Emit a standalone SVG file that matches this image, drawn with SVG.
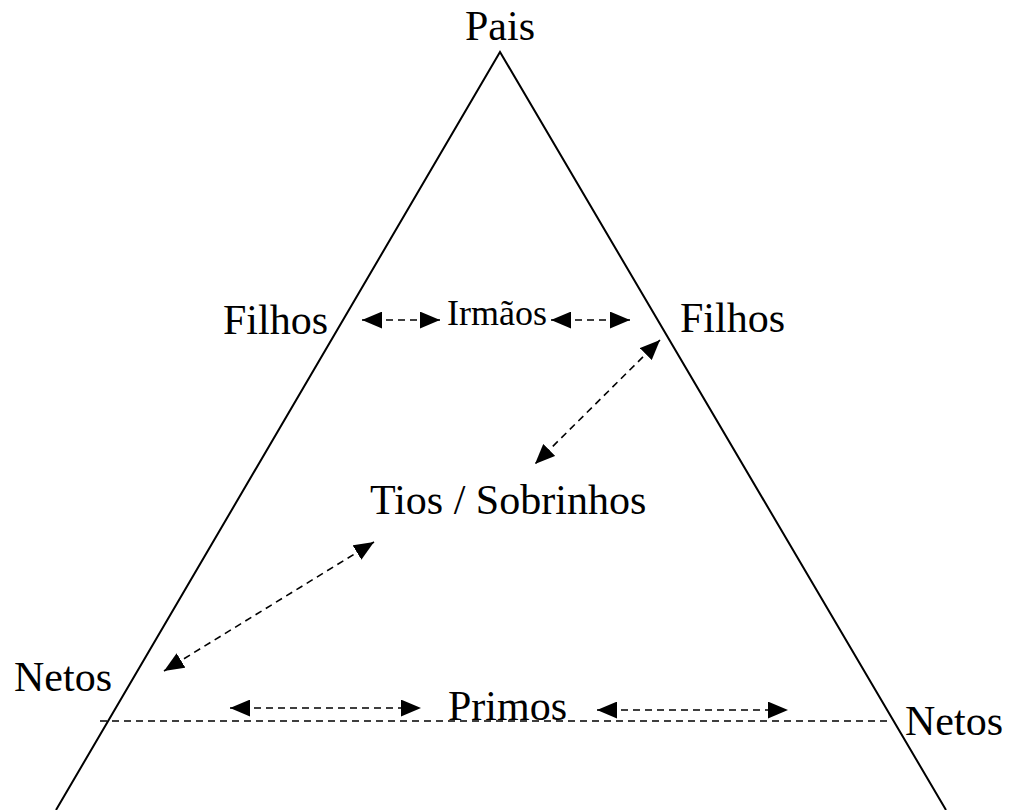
<svg xmlns="http://www.w3.org/2000/svg" width="1011" height="810" viewBox="0 0 1011 810">
<style>
text{font-family:"Liberation Serif","Times New Roman",serif;fill:#000;font-size:42px}
.tri{fill:none;stroke:#000;stroke-width:2}
.dash{stroke:#000;stroke-width:1.6;stroke-dasharray:7,5;fill:none}
.arr{marker-start:url(#ah);marker-end:url(#ah)}
</style>
<defs>
<marker id="ah" markerUnits="userSpaceOnUse" markerWidth="20" markerHeight="17" refX="19" refY="8" orient="auto-start-reverse" viewBox="0 0 19 16">
<path d="M0,0 L19,8 L0,16 z" fill="#000"/>
</marker>
</defs>
<rect width="1011" height="810" fill="#fff"/>
<g id="triangle"><path class="tri" d="M56,810 L500,52 L946,810"/></g>
<g id="connectors">
<line class="dash" x1="100" y1="721" x2="890" y2="721"/>
<line class="dash arr" x1="362" y1="320" x2="440" y2="320"/>
<line class="dash arr" x1="551" y1="320" x2="630" y2="320"/>
<line class="dash arr" x1="660" y1="340" x2="535" y2="464"/>
<line class="dash arr" x1="374" y1="542" x2="164" y2="671"/>
<line class="dash arr" x1="230" y1="708" x2="421" y2="708"/>
<line class="dash arr" x1="597" y1="710" x2="788" y2="710"/>
</g>
<g id="pais"><text x="500" y="40" text-anchor="middle">Pais</text></g>
<g id="filhos-left"><text x="223" y="334">Filhos</text></g>
<g id="irmaos"><text x="447" y="325" style="font-size:36px">Irmãos</text></g>
<g id="filhos-right"><text x="680" y="332">Filhos</text></g>
<g id="tios"><text x="370" y="514">Tios / Sobrinhos</text></g>
<g id="netos-left"><text x="14" y="691">Netos</text></g>
<g id="primos"><text x="448" y="720">Primos</text></g>
<g id="netos-right"><text x="905" y="735">Netos</text></g>
</svg>
